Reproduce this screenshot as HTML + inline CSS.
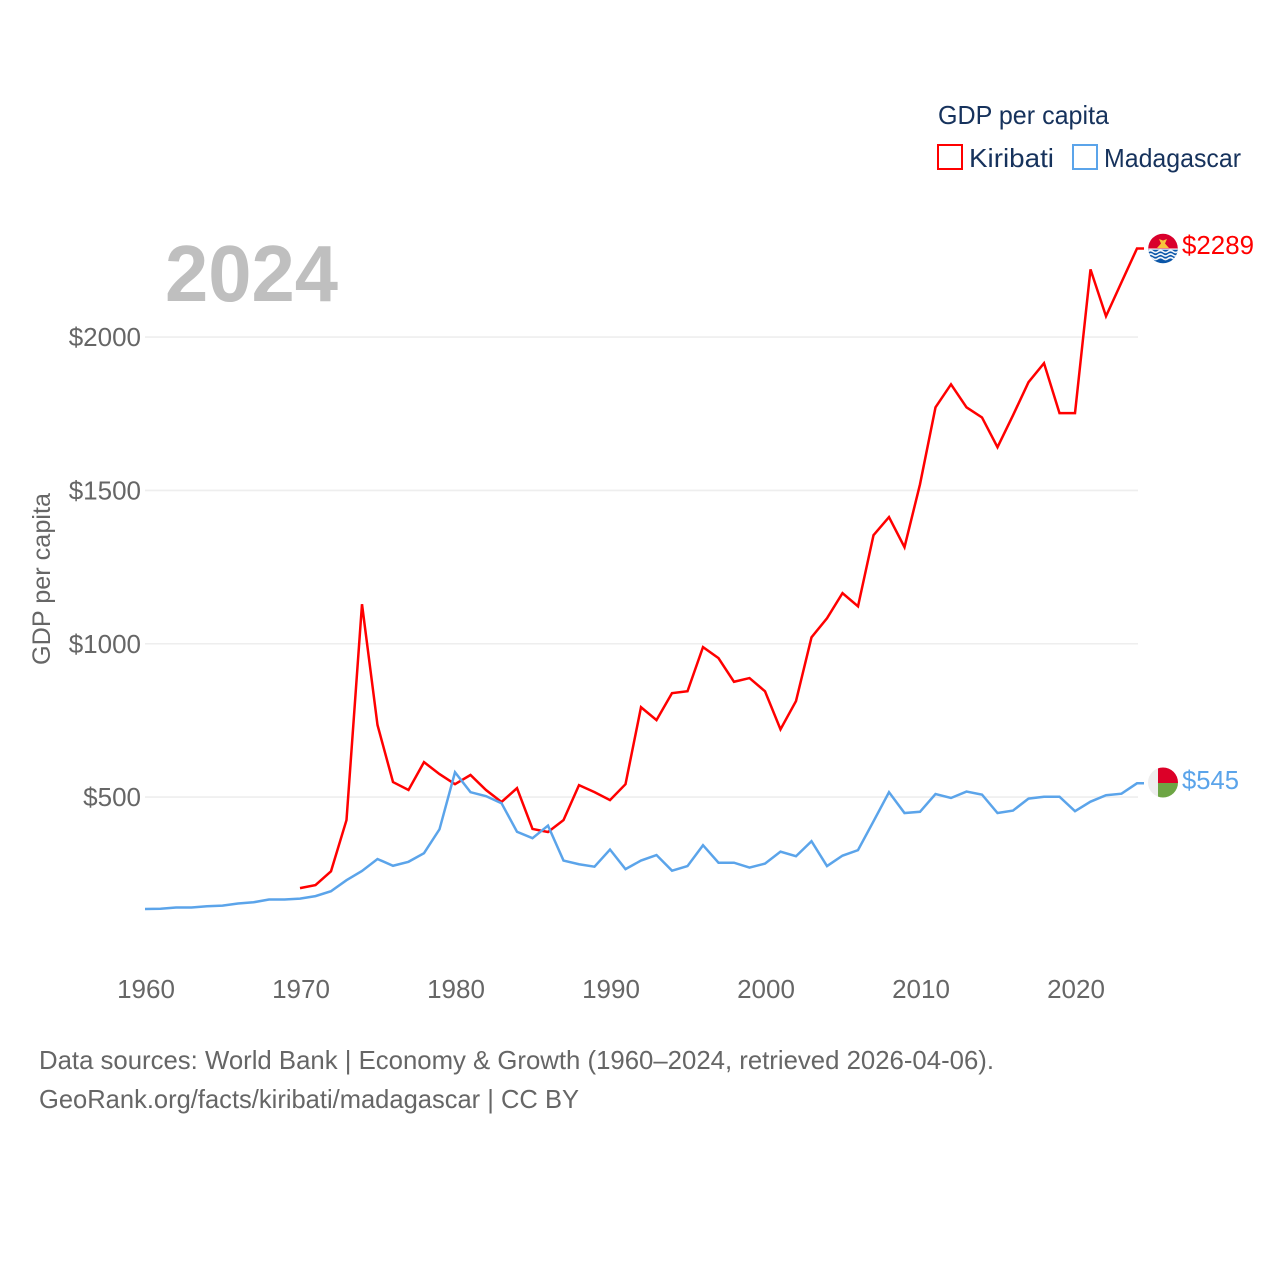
<!DOCTYPE html>
<html lang="en">
<head>
<meta charset="utf-8">
<title>GDP per capita: Kiribati and Madagascar</title>
<style>
html,body{margin:0;padding:0;background:#fff;}
svg{display:block;font-family:"Liberation Sans",sans-serif;}
</style>
</head>
<body>
<svg id="chart" xmlns="http://www.w3.org/2000/svg" width="1280" height="1280" viewBox="0 0 1280 1280">
  <rect width="1280" height="1280" fill="#ffffff"/>
  <defs>
    <clipPath id="flag-clip-top"><circle cx="1163" cy="248.5" r="14.8"/></clipPath>
    <clipPath id="flag-clip-bottom"><circle cx="1163" cy="782.5" r="15"/></clipPath>
  </defs>

  <g id="grid"></g>
  <g id="yticks"></g>
  <g id="xticks"></g>
  <g id="series"></g>

  <text x="165" y="301" font-size="80" font-weight="700" fill="#bfbfbf" textLength="173" lengthAdjust="spacingAndGlyphs">2024</text>

  <text transform="translate(50,665) rotate(-90)" font-size="25" fill="#666666" textLength="172" lengthAdjust="spacingAndGlyphs">GDP per capita</text>

  <g>
    <text x="938" y="124" font-size="26" fill="#16325c" textLength="171" lengthAdjust="spacingAndGlyphs">GDP per capita</text>
    <rect x="938" y="145" width="24" height="24" fill="none" stroke="#ff0000" stroke-width="2"/>
    <text x="969" y="167" font-size="26" fill="#16325c" textLength="85" lengthAdjust="spacingAndGlyphs">Kiribati</text>
    <rect x="1073" y="145" width="24" height="24" fill="none" stroke="#5ba4ea" stroke-width="2"/>
    <text x="1104" y="167" font-size="26" fill="#16325c" textLength="137" lengthAdjust="spacingAndGlyphs">Madagascar</text>
  </g>

  <g clip-path="url(#flag-clip-top)">
    <rect x="1148" y="233" width="30" height="15.5" fill="#d9002c"/>
    <rect x="1148" y="248.5" width="30" height="15.5" fill="#0a56a8"/>
    <rect x="1148" y="248.5" width="30" height="1.2" fill="#ffffff"/>
    <path d="M1148 251.5 q2.5 -2 5 0 t5 0 t5 0 t5 0 t5 0 t5 0" fill="none" stroke="#f1f5fa" stroke-width="1.6"/>
    <path d="M1148 255 q2.5 -2 5 0 t5 0 t5 0 t5 0 t5 0 t5 0" fill="none" stroke="#f1f5fa" stroke-width="1.6"/>
    <path d="M1148 258.5 q2.5 -2 5 0 t5 0 t5 0 t5 0 t5 0 t5 0" fill="none" stroke="#f1f5fa" stroke-width="1.6"/>
    <path d="M1157 248 L1169 248 L1165 243.5 L1167 239 L1163 240.5 L1159 239 L1161 243.5 Z" fill="#f7c23c"/>
  </g>
  <text x="1182" y="254" font-size="26" fill="#ff0000" textLength="72" lengthAdjust="spacingAndGlyphs">$2289</text>

  <g clip-path="url(#flag-clip-bottom)">
    <rect x="1148" y="767" width="10" height="32" fill="#eeeeee"/>
    <rect x="1158" y="767" width="20" height="16" fill="#dc0028"/>
    <rect x="1158" y="783" width="20" height="16" fill="#6da544"/>
  </g>
  <text x="1182" y="789" font-size="26" fill="#5ba4ea" textLength="57" lengthAdjust="spacingAndGlyphs">$545</text>

  <text x="39" y="1069" font-size="26" fill="#666666" textLength="955" lengthAdjust="spacingAndGlyphs">Data sources: World Bank | Economy &amp; Growth (1960–2024, retrieved 2026-04-06).</text>
  <text x="39" y="1108" font-size="26" fill="#666666" textLength="540" lengthAdjust="spacingAndGlyphs">GeoRank.org/facts/kiribati/madagascar | CC BY</text>
</svg>

<script>
const years = [1960,1961,1962,1963,1964,1965,1966,1967,1968,1969,1970,1971,1972,1973,1974,1975,1976,1977,1978,1979,1980,1981,1982,1983,1984,1985,1986,1987,1988,1989,1990,1991,1992,1993,1994,1995,1996,1997,1998,1999,2000,2001,2002,2003,2004,2005,2006,2007,2008,2009,2010,2011,2012,2013,2014,2015,2016,2017,2018,2019,2020,2021,2022,2023,2024];
const kiribati = [null,null,null,null,null,null,null,null,null,null,203,213,258,425,1129,735,549,523,614,575,542,572,523,484,529,396,386,425,539,516,490,542,793,751,839,845,989,953,876,888,845,721,813,1021,1083,1165,1122,1354,1413,1315,1520,1771,1846,1771,1738,1641,1745,1853,1915,1752,1752,2221,2068,2179,2289];
const madagascar = [135,136,140,140,144,146,153,157,166,166,169,177,193,229,259,298,276,289,317,395,581,516,503,480,387,366,407,293,281,273,329,265,293,311,260,275,343,286,286,270,283,322,307,356,275,309,327,421,516,448,452,510,497,518,508,448,456,495,501,501,454,485,506,511,545];
const yTickValues = [500,1000,1500,2000];
const yTickLabels = ["$500","$1000","$1500","$2000"];
const xTickValues = [1960,1970,1980,1990,2000,2010,2020];
const xTickLabels = ["1960","1970","1980","1990","2000","2010","2020"];

const NS = "http://www.w3.org/2000/svg";
const xScale = function (year) { return 145 + (year - 1960) * 15.5; };
const yScale = function (value) { return 950.4 - value * 0.30665; };

const grid = document.getElementById("grid");
const yticks = document.getElementById("yticks");
const xticks = document.getElementById("xticks");
const seriesGroup = document.getElementById("series");

yTickValues.forEach(function (value, i) {
  const line = document.createElementNS(NS, "line");
  
  
  line.setAttribute("x1", xScale(1960));
  line.setAttribute("x2", xScale(2024) + 1);
  line.setAttribute("y1", yScale(value));
  line.setAttribute("y2", yScale(value));
  line.setAttribute("stroke", "#eeeeee");
  line.setAttribute("stroke-width", "1.6");
  grid.appendChild(line);

  const label = document.createElementNS(NS, "text");
  
  
  label.setAttribute("x", 141);
  label.setAttribute("y", yScale(value) + 9);
  label.setAttribute("text-anchor", "end");
  label.setAttribute("font-size", "26");
  label.setAttribute("fill", "#666666");
  label.textContent = yTickLabels[i];
  yticks.appendChild(label);
});

xTickValues.forEach(function (year, i) {
  const label = document.createElementNS(NS, "text");
  
  
  label.setAttribute("x", xScale(year) + 1);
  label.setAttribute("y", 998);
  label.setAttribute("text-anchor", "middle");
  label.setAttribute("font-size", "26");
  label.setAttribute("fill", "#666666");
  label.textContent = xTickLabels[i];
  xticks.appendChild(label);
});

function linePath(values) {
  let d = "";
  values.forEach(function (value, i) {
    if (value === null) { return; }
    d += (d === "" ? "M" : "L") + xScale(years[i]).toFixed(2) + " " + yScale(value).toFixed(2) + " ";
  });
  const last = values[values.length - 1];
  d += "L" + (xScale(years[years.length - 1]) + 7).toFixed(2) + " " + yScale(last).toFixed(2);
  return d;
}

const kiribatiLine = document.createElementNS(NS, "path");


kiribatiLine.setAttribute("d", linePath(kiribati));
kiribatiLine.setAttribute("fill", "none");
kiribatiLine.setAttribute("stroke", "#ff0000");
kiribatiLine.setAttribute("stroke-width", "2.5");
seriesGroup.appendChild(kiribatiLine);

const madagascarLine = document.createElementNS(NS, "path");


madagascarLine.setAttribute("d", linePath(madagascar));
madagascarLine.setAttribute("fill", "none");
madagascarLine.setAttribute("stroke", "#5ba4ea");
madagascarLine.setAttribute("stroke-width", "2.5");
seriesGroup.appendChild(madagascarLine);
</script>
</body>
</html>
